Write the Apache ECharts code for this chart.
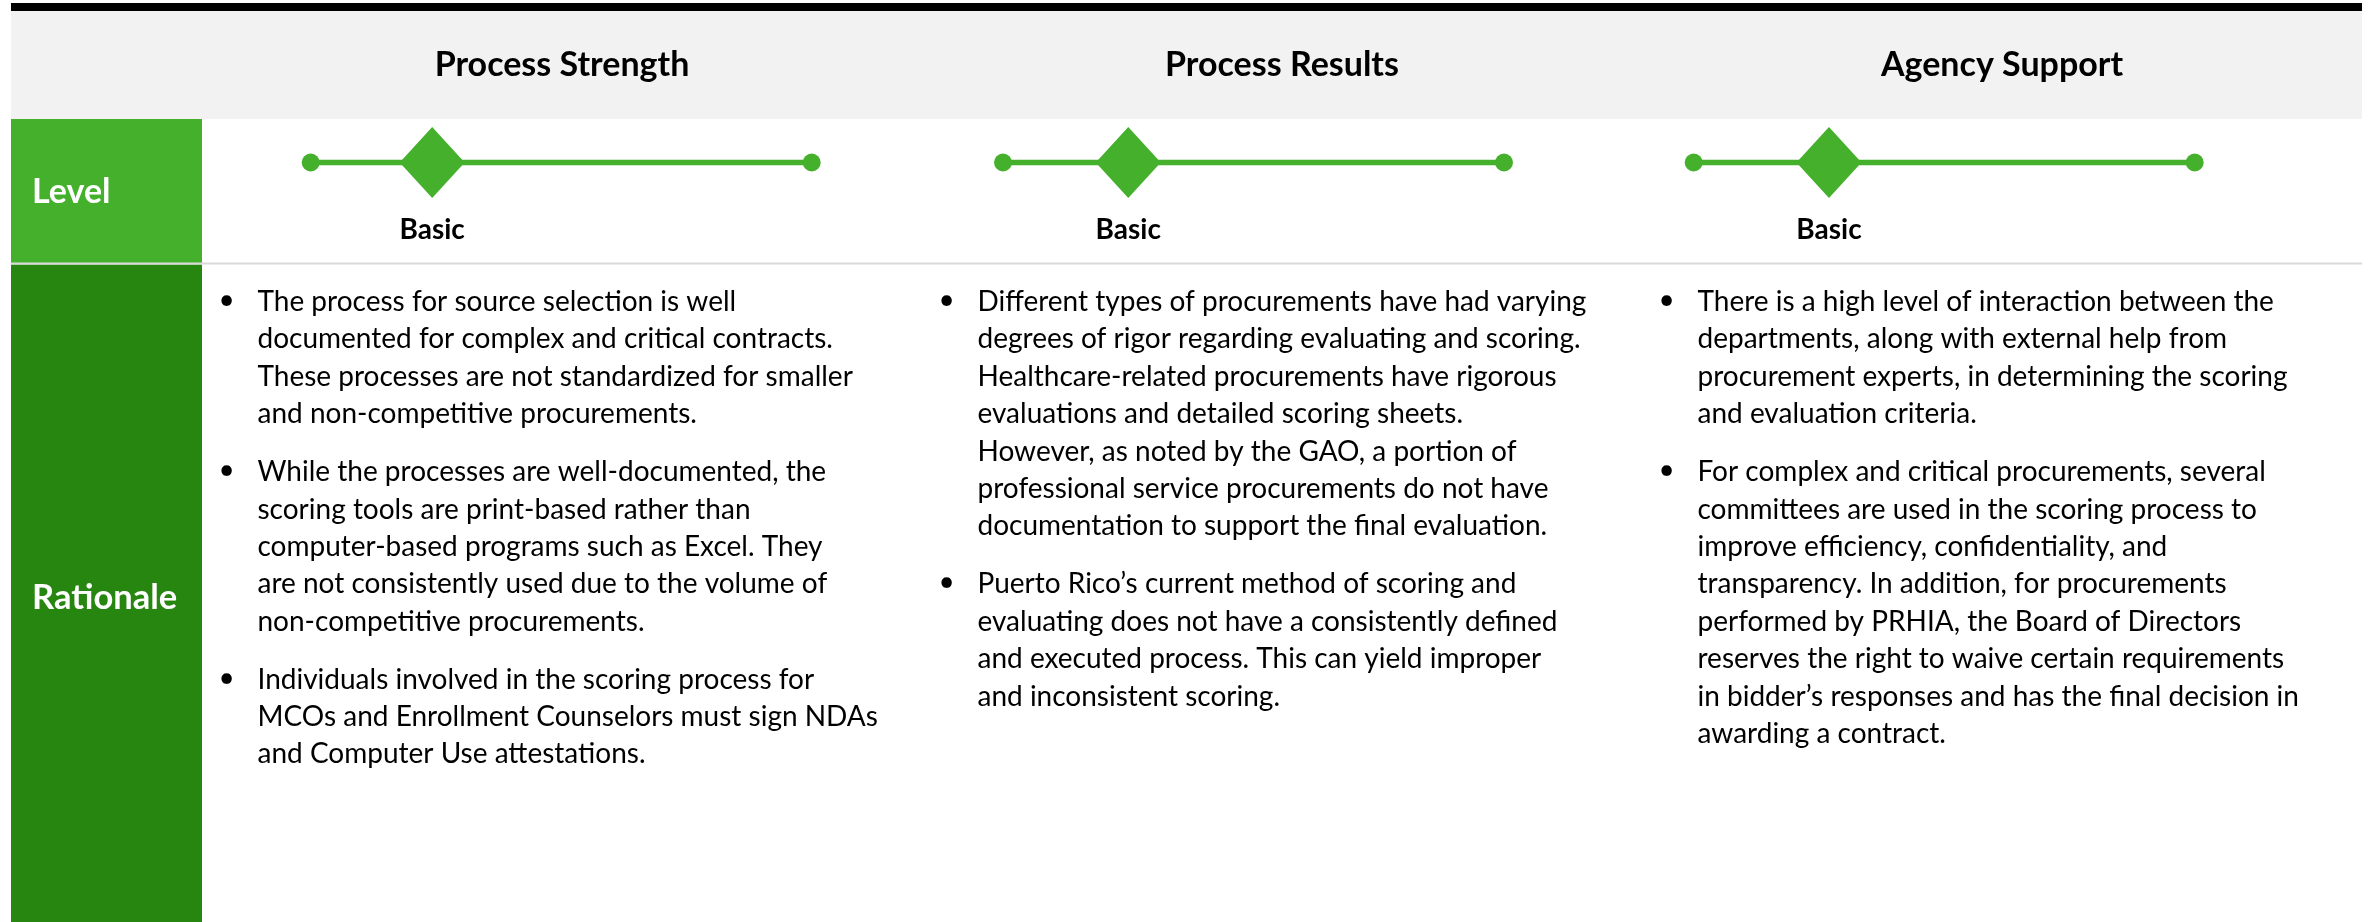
<!DOCTYPE html>
<html>
<head>
<meta charset="utf-8">
<script src="https://cdn.jsdelivr.net/npm/echarts@6.0.0/dist/echarts.min.js"></script>
<style>
html,body{margin:0;padding:0;background:#fff;}
#chart{width:2371px;height:922px;}
</style>
</head>
<body>
<div id="chart"></div>
<script>
// ---------------- DATA ----------------
const categories = ['Process Strength', 'Process Results', 'Agency Support'];
const rowLabels = ['Level', 'Rationale'];
const levelNames = ['Basic', 'Basic', 'Basic'];
const scaleEnds = [0, 4];
const levelValues = [0.97, 1.0, 1.08];

const rationaleStrength = [
  ['The process for source selection is well',
   'documented for complex and critical contracts.',
   'These processes are not standardized for smaller',
   'and non-competitive procurements.'],
  ['While the processes are well-documented, the',
   'scoring tools are print-based rather than',
   'computer-based programs such as Excel. They',
   'are not consistently used due to the volume of',
   'non-competitive procurements.'],
  ['Individuals involved in the scoring process for',
   'MCOs and Enrollment Counselors must sign NDAs',
   'and Computer Use attestations.']
];
const rationaleResults = [
  ['Different types of procurements have had varying',
   'degrees of rigor regarding evaluating and scoring.',
   'Healthcare-related procurements have rigorous',
   'evaluations and detailed scoring sheets.',
   'However, as noted by the GAO, a portion of',
   'professional service procurements do not have',
   'documentation to support the final evaluation.'],
  ['Puerto Rico\u2019s current method of scoring and',
   'evaluating does not have a consistently defined',
   'and executed process. This can yield improper',
   'and inconsistent scoring.']
];
const rationaleSupport = [
  ['There is a high level of interaction between the',
   'departments, along with external help from',
   'procurement experts, in determining the scoring',
   'and evaluation criteria.'],
  ['For complex and critical procurements, several',
   'committees are used in the scoring process to',
   'improve efficiency, confidentiality, and',
   'transparency. In addition, for procurements',
   'performed by PRHIA, the Board of Directors',
   'reserves the right to waive certain requirements',
   'in bidder\u2019s responses and has the final decision in',
   'awarding a contract.']
];
const rationales = [rationaleStrength, rationaleResults, rationaleSupport];

// ---------------- LAYOUT / STYLE ----------------
const L = {
  x0: 11, x1: 2362,
  barTop: 3, barBot: 11,
  headBot: 119, levelBot: 263, rowBot: 922,
  labelColR: 202,
  lineStart: [310.7, 1003, 1693.7], lineLen: 501, lineY: 162.5,
  textTop: 302, lineH: 37.4, paraGap: 20.5,
  bulletDx: 24.5, textDx: 55.5
};
const C = {
  green: '#44B02C', dark: '#26860F', gray: '#F2F2F2', sep: '#D9D9D9', text: '#000'
};
const FONT = 'Lato';
const colW = (L.x1 - L.labelColR) / 3;

const graphics = [];
// backgrounds
graphics.push({type:'rect', shape:{x:L.x0, y:L.barTop, width:L.x1-L.x0, height:L.barBot-L.barTop}, style:{fill:'#000'}, silent:true});
graphics.push({type:'rect', shape:{x:L.x0, y:L.barBot, width:L.x1-L.x0, height:L.headBot-L.barBot}, style:{fill:C.gray}, silent:true});
graphics.push({type:'rect', shape:{x:L.x0, y:L.headBot, width:L.labelColR-L.x0, height:L.levelBot-L.headBot}, style:{fill:C.green}, silent:true});
graphics.push({type:'rect', shape:{x:L.x0, y:L.levelBot+1.5, width:L.labelColR-L.x0, height:L.rowBot-L.levelBot-1.5}, style:{fill:C.dark}, silent:true});
graphics.push({type:'rect', shape:{x:L.x0, y:L.levelBot-0.5, width:L.x1-L.x0, height:2}, style:{fill:C.sep}, silent:true});

// headers
categories.forEach((c, i) => {
  graphics.push({type:'text', x: L.labelColR + colW*(i+0.5), y: (L.barBot+L.headBot)/2, silent:true,
    style:{text:c, fill:C.text, fontFamily:FONT, fontWeight:'bold', fontSize:34, textAlign:'center', textVerticalAlign:'middle'}});
});
// row labels
graphics.push({type:'text', x: 32, y: 192, silent:true,
  style:{text:rowLabels[0], fill:'#fff', fontFamily:FONT, fontWeight:'bold', fontSize:34, textAlign:'left', textVerticalAlign:'middle'}});
graphics.push({type:'text', x: 32, y: 598, silent:true,
  style:{text:rowLabels[1], fill:'#fff', fontFamily:FONT, fontWeight:'bold', fontSize:34.5, textAlign:'left', textVerticalAlign:'middle'}});

// rationale paragraphs
rationales.forEach((paras, i) => {
  const colX = L.labelColR + colW*i;
  let y = L.textTop;
  paras.forEach(lines => {
    graphics.push({type:'text', x: colX + L.bulletDx, y: y - 2, silent:true,
      style:{text:'\u2022', fill:C.text, fontFamily:FONT, fontSize:28, textAlign:'center', textVerticalAlign:'middle'}});
    graphics.push({type:'text', x: colX + L.textDx, y: y - L.lineH/2, silent:true,
      style:{text:lines.join('\n'), fill:C.text, fontFamily:FONT, fontSize:28, lineHeight:L.lineH, textAlign:'left', textVerticalAlign:'top'}});
    y += lines.length*L.lineH + L.paraGap;
  });
});

// level scales through axes
const grids = [], xAxes = [], yAxes = [], series = [];
categories.forEach((c, i) => {
  grids.push({left: L.lineStart[i], width: L.lineLen, top: L.lineY - 20, height: 40, containLabel:false});
  xAxes.push({type:'value', gridIndex:i, min:scaleEnds[0], max:scaleEnds[1], show:false});
  yAxes.push({type:'value', gridIndex:i, min:-1, max:1, show:false});
  series.push({type:'line', xAxisIndex:i, yAxisIndex:i, data: scaleEnds.map(v => [v, 0]),
    symbol:'circle', symbolSize:18, showSymbol:true, lineStyle:{width:5.5, color:C.green, opacity:1},
    itemStyle:{color:C.green, opacity:1}, silent:true, animation:false, z:2});
  series.push({type:'scatter', xAxisIndex:i, yAxisIndex:i, data: [[levelValues[i], 0]],
    symbol:'diamond', symbolSize:[65,71], itemStyle:{color:C.green, opacity:1}, silent:true, animation:false, z:3,
    label:{show:true, position:'bottom', distance:18, formatter: () => levelNames[i],
      color:C.text, opacity:1, fontFamily:FONT, fontWeight:'bold', fontSize:28, lineHeight:28}});
});

const chart = echarts.init(document.getElementById('chart'), null, {renderer:'canvas'});
chart.setOption({
  animation:false,
  backgroundColor:'#fff',
  grid: grids, xAxis: xAxes, yAxis: yAxes, series: series,
  graphic: {elements: graphics}
});
</script>
</body>
</html>
